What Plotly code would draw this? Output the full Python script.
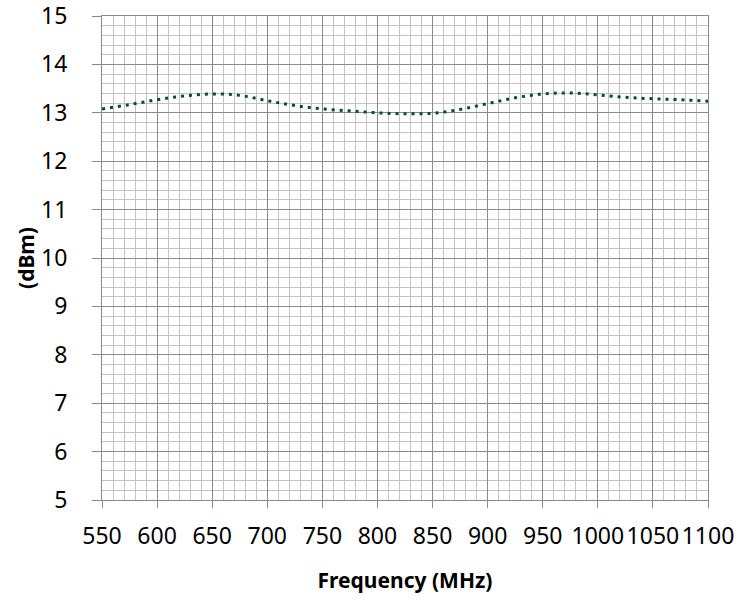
import plotly.graph_objects as go

freq_mhz = [550, 575, 600, 625, 650, 675, 700, 725, 750, 775, 800, 825, 850,
            875, 900, 925, 950, 975, 1000, 1025, 1050, 1075, 1100]
power_dbm = [13.08, 13.17, 13.27, 13.35, 13.39, 13.36, 13.25, 13.15, 13.08, 13.04,
             13.00, 12.98, 12.99, 13.07, 13.19, 13.31, 13.39, 13.41, 13.37, 13.32,
             13.29, 13.27, 13.24]
x_ticks = [550, 600, 650, 700, 750, 800, 850, 900, 950, 1000, 1050, 1100]
y_ticks = [5, 6, 7, 8, 9, 10, 11, 12, 13, 14, 15]

fig = go.Figure()
fig.add_trace(go.Scatter(
    x=freq_mhz, y=power_dbm, mode="lines",
    line=dict(color="#00512b", width=3, dash="3px,5px", shape="spline"),
    showlegend=False, hoverinfo="skip",
))

font_family = "Noto Sans"
fig.update_layout(
    width=750, height=601,
    margin=dict(l=102, r=42, t=16, b=101),
    paper_bgcolor="white", plot_bgcolor="white",
    font=dict(family=font_family, size=23, color="black"),
    xaxis=dict(
        range=[550, 1100], tickvals=x_ticks, ticktext=[str(v) for v in x_ticks],
        showgrid=True, gridcolor="#8a8a8a", gridwidth=1.2,
        minor=dict(dtick=10, tick0=550, showgrid=True, gridcolor="#c2c2c2", gridwidth=1),
        ticks="outside", ticklen=7, tickcolor="#8a8a8a",
        ticklabelstandoff=8, ticklabeloverflow="allow",
        showline=True, linecolor="#8a8a8a", linewidth=1.2, mirror=True,
        zeroline=False, automargin=False,
        title=dict(text="<b>Frequency (MHz)</b>", font=dict(size=21), standoff=23),
    ),
    yaxis=dict(
        range=[5, 15], tickvals=y_ticks,
        showgrid=True, gridcolor="#8a8a8a", gridwidth=1.2,
        minor=dict(dtick=0.2, tick0=5, showgrid=True, gridcolor="#c2c2c2", gridwidth=1),
        ticks="outside", ticklen=9, tickcolor="#8a8a8a",
        ticklabelstandoff=20, ticklabeloverflow="allow",
        showline=True, linecolor="#8a8a8a", linewidth=1.2, mirror=True,
        zeroline=False, automargin=False,
        title=dict(text="<b>(dBm)</b>", font=dict(size=21), standoff=0),
    ),
)

fig.write_html("out.html", config={"displayModeBar": False},
               post_script="document.body.style.margin='0';")
